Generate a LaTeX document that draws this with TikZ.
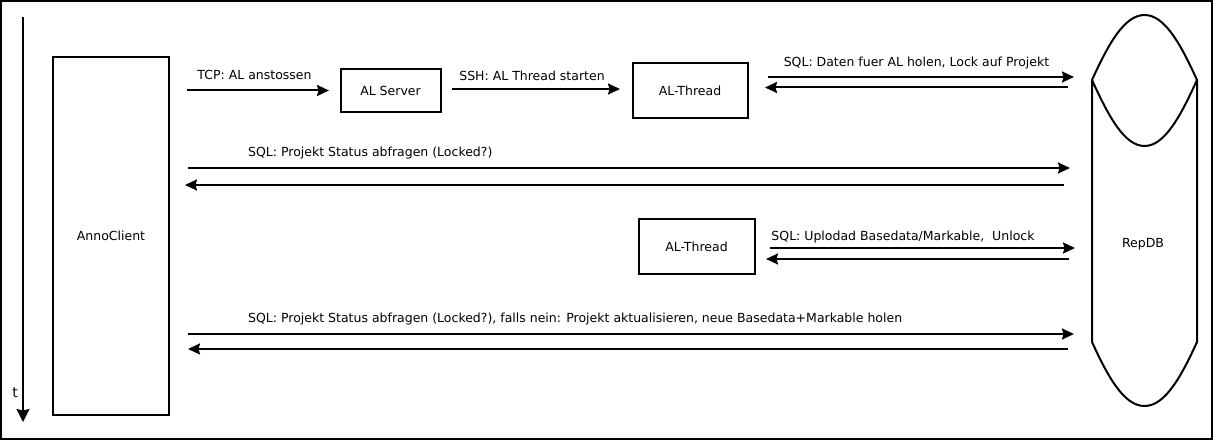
\documentclass[tikz,border=0pt]{standalone}
\usepackage{fontspec}
\setmainfont{DejaVu Sans}
\usetikzlibrary{arrows.meta}
\begin{document}
\begin{tikzpicture}[x=1bp,y=-1bp,
  lbl/.style={font=\fontsize{12.5bp}{14bp}\selectfont, inner sep=0pt, anchor=center},
  box/.style={draw, line width=2bp, inner sep=0pt, font=\fontsize{12.5bp}{14bp}\selectfont},
  msg/.style={line width=2bp, -{Stealth[length=12bp,width=11bp,inset=1.5bp]}},
  taxis/.style={line width=1.6bp, -{Stealth[length=13bp,width=13bp,inset=1.5bp]}}
]
\useasboundingbox (0,0) rectangle (1214,441);
\draw[line width=2bp] (1,1) rectangle (1212,439);

% time axis
\coordinate (t0) at (23,17);
\coordinate (t1) at (23,422);
\draw[taxis] (t0) -- (t1);
\node[lbl, font=\fontsize{14bp}{16bp}\selectfont] (tl) at (15,393) {t};

% boxes
\node[box, minimum width=116bp, minimum height=358bp] (client) at (111,236) {AnnoClient};
\node[box, minimum width=100bp, minimum height=43bp] (srv) at (390.5,91) {AL Server};
\node[box, minimum width=115bp, minimum height=55bp] (thr1) at (690,90.5) {AL-Thread};
\node[box, minimum width=116bp, minimum height=55bp] (thr2) at (696.5,246.5) {AL-Thread};

% RepDB
\draw[line width=2bp]
  (1092,80) .. controls (1108,45) and (1124,15) .. (1144.5,15)
            .. controls (1165,15) and (1181,45) .. (1197,80)
  (1092,80) .. controls (1108,115) and (1124,146) .. (1144.5,146)
            .. controls (1165,146) and (1181,115) .. (1197,80)
  (1092,80) -- (1092,342)
            .. controls (1108,377) and (1124,406) .. (1144.5,406)
            .. controls (1165,406) and (1181,377) .. (1197,342) -- (1197,80);
\node[lbl] (db) at (1143,244) {RepDB};

% endpoints
\coordinate (a1s) at (187,90.5);  \coordinate (a1e) at (329,90.5);
\coordinate (a2s) at (452,89);    \coordinate (a2e) at (620,89);
\coordinate (a3s) at (768,77);    \coordinate (a3e) at (1074,77);
\coordinate (a4s) at (1068,87.5); \coordinate (a4e) at (765,87.5);
\coordinate (a5s) at (188,168);   \coordinate (a5e) at (1070,168);
\coordinate (a6s) at (1064,185);  \coordinate (a6e) at (185,185);
\coordinate (a7s) at (770,248);   \coordinate (a7e) at (1075,248);
\coordinate (a8s) at (1069,259);  \coordinate (a8e) at (766,259);
\coordinate (a9s) at (188,334);   \coordinate (a9e) at (1074,334);
\coordinate (a10s) at (1068,349); \coordinate (a10e) at (188,349);

\draw[msg] (a1s) -- (a1e);
\draw[msg] (a2s) -- (a2e);
\draw[msg] (a3s) -- (a3e);
\draw[msg] (a4s) -- (a4e);
\draw[msg] (a5s) -- (a5e);
\draw[msg] (a6s) -- (a6e);
\draw[msg] (a7s) -- (a7e);
\draw[msg] (a8s) -- (a8e);
\draw[msg] (a9s) -- (a9e);
\draw[msg] (a10s) -- (a10e);

% labels
\node[lbl] (l1) at (254.5,75) {TCP: AL anstossen};
\node[lbl] (l2) at (532,76) {SSH: AL Thread starten};
\node[lbl] (l3) at (916.5,63) {SQL: Daten fuer AL holen, Lock auf Projekt};
\node[lbl, anchor=west] (l5) at (248,153) {SQL: Projekt Status abfragen (Locked?)};
\node[lbl] (l7) at (903,237) {SQL: Uplodad Basedata/Markable,\ \ Unlock};
\node[lbl, anchor=west] (l9) at (248,319) {SQL: Projekt Status abfragen (Locked?), falls nein: Projekt aktualisieren, neue Basedata+Markable holen};
\end{tikzpicture}
\end{document}
